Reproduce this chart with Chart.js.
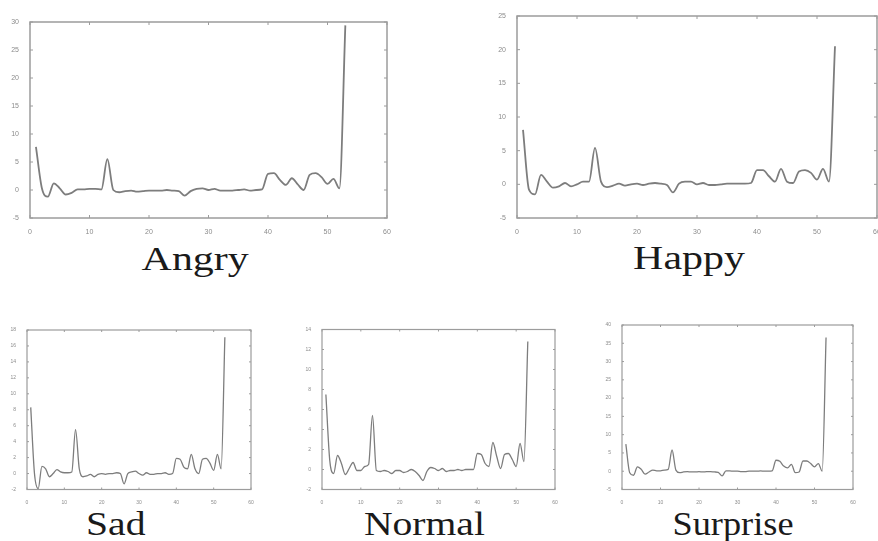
<!DOCTYPE html>
<html>
<head>
<meta charset="utf-8">
<script src="https://cdn.jsdelivr.net/npm/chart.js@4/dist/chart.umd.min.js"></script>
<style>
  html, body { margin: 0; padding: 0; background: #fff; }
  body { width: 878px; height: 541px; position: relative; overflow: hidden; }
  canvas { position: absolute; }
  .title {
    position: absolute;
    font-family: "Liberation Serif", "DejaVu Serif", serif;
    font-size: 33px;
    line-height: 33px;
    color: #1a1a1a;
    white-space: nowrap;
    transform-origin: center;
  }
</style>
</head>
<body>
<canvas id="angryChart"></canvas>
<canvas id="happyChart"></canvas>
<canvas id="sadChart"></canvas>
<canvas id="normalChart"></canvas>
<canvas id="surpriseChart"></canvas>

<div class="title" id="t-angry">Angry</div>
<div class="title" id="t-happy">Happy</div>
<div class="title" id="t-sad">Sad</div>
<div class="title" id="t-normal">Normal</div>
<div class="title" id="t-surprise">Surprise</div>

<script>
// data point index (x axis)
const frameIndex = [1, 2, 3, 4, 5, 6, 7, 8, 9, 10, 11, 12, 13, 14, 15, 16, 17, 18, 19, 20,
  21, 22, 23, 24, 25, 26, 27, 28, 29, 30, 31, 32, 33, 34, 35, 36, 37, 38, 39, 40,
  41, 42, 43, 44, 45, 46, 47, 48, 49, 50, 51, 52, 53];

const xTicks = [0, 10, 20, 30, 40, 50, 60];

const angryValues = [7.7, 0.3, -1.2, 1.2, 0.3, -0.8, -0.5, 0.1, 0.1, 0.2, 0.2, 0.1, 5.5, 0.0, -0.4, -0.2, -0.1, -0.3, -0.2, -0.1,
  -0.1, -0.1, 0.0, -0.1, -0.2, -1.0, -0.2, 0.2, 0.3, 0.0, 0.2, -0.1, -0.1, -0.1, 0.0, 0.1, -0.1, 0.0, 0.1, 2.9,
  3.0, 1.8, 0.9, 2.1, 1.0, 0.0, 2.7, 3.0, 2.3, 1.1, 2.0, 0.3, 29.4];
const happyValues = [8.1, -0.8, -1.5, 1.4, 0.4, -0.5, -0.3, 0.2, -0.3, 0.0, 0.4, 0.4, 5.4, 0.4, -0.4, -0.2, 0.1, -0.2, 0.0, 0.1,
  -0.1, 0.1, 0.2, 0.1, -0.1, -1.2, 0.1, 0.4, 0.4, 0.0, 0.2, -0.1, -0.1, 0.0, 0.1, 0.1, 0.1, 0.1, 0.2, 2.1,
  2.1, 1.2, 0.4, 2.3, 0.4, 0.2, 1.9, 2.1, 1.7, 0.7, 2.3, 0.4, 20.5];
const sadValues = [8.3, 0.0, -1.9, 0.9, 0.6, -0.4, 0.0, 0.5, 0.2, 0.1, 0.1, 0.2, 5.5, 0.6, -0.4, -0.3, -0.1, -0.4, -0.1, 0.0,
  -0.1, 0.0, 0.0, 0.1, 0.0, -1.3, 0.0, 0.2, 0.3, 0.0, -0.2, 0.1, -0.1, -0.1, 0.0, 0.0, 0.1, -0.1, 0.0, 1.9,
  1.8, 0.8, 0.6, 2.4, 0.6, 0.0, 1.8, 1.9, 1.3, 0.4, 2.4, 0.6, 17.1];
const normalValues = [7.5, 0.9, -0.4, 1.4, 0.6, -0.5, 0.1, 0.7, -0.1, -0.1, 0.3, 0.5, 5.4, -0.1, -0.2, -0.1, -0.2, -0.4, -0.1, -0.1,
  -0.3, -0.2, 0.0, -0.2, -0.6, -1.1, -0.2, 0.2, 0.1, -0.1, 0.1, -0.2, -0.1, -0.1, 0.0, -0.1, 0.0, 0.0, 0.0, 1.6,
  1.5, 0.6, 0.3, 2.7, 1.3, 0.1, 1.5, 1.6, 1.0, 0.3, 2.6, 0.8, 12.8];
const surpriseValues = [7.4, -0.4, -1.1, 1.2, 0.5, -0.8, -0.2, 0.3, 0.1, 0.1, 0.3, 0.5, 5.8, 0.3, -0.4, -0.2, -0.1, -0.2, -0.2, -0.1,
  -0.2, -0.1, -0.1, -0.2, -0.3, -1.3, 0.1, 0.1, 0.0, 0.0, -0.1, -0.1, 0.0, 0.0, 0.0, 0.1, 0.0, 0.0, 0.1, 3.0,
  2.7, 1.4, 0.9, 1.9, -0.4, -0.2, 2.8, 2.8, 2.1, 1.2, 2.1, 0.0, 36.6];

// y tick labels for each panel
const angryYTicks = [-5, 0, 5, 10, 15, 20, 25, 30];
const happyYTicks = [-5, 0, 5, 10, 15, 20, 25];
const sadYTicks = [-2, 0, 2, 4, 6, 8, 10, 12, 14, 16, 18];
const normalYTicks = [-2, 0, 2, 4, 6, 8, 10, 12, 14];
const surpriseYTicks = [-5, 0, 5, 10, 15, 20, 25, 30, 35, 40];

// MATLAB-like box with inward ticks on all sides
const frameBox = {
  id: 'frameBox',
  afterDatasetsDraw(chart, args, opts) {
    const { ctx, chartArea: a, scales } = chart;
    const len = opts.tickLen || 3;
    ctx.save();
    ctx.strokeStyle = '#9c9c9c';
    ctx.lineWidth = opts.lineWidth || 1.5;
    ctx.strokeRect(a.left, a.top, a.right - a.left, a.bottom - a.top);
    ctx.lineWidth = 1;
    ctx.beginPath();
    scales.x.ticks.forEach(t => {
      const px = scales.x.getPixelForValue(t.value);
      ctx.moveTo(px, a.bottom); ctx.lineTo(px, a.bottom - len);
      ctx.moveTo(px, a.top); ctx.lineTo(px, a.top + len);
    });
    scales.y.ticks.forEach(t => {
      const py = scales.y.getPixelForValue(t.value);
      ctx.moveTo(a.left, py); ctx.lineTo(a.left + len, py);
      ctx.moveTo(a.right, py); ctx.lineTo(a.right - len, py);
    });
    ctx.stroke();
    ctx.restore();
  }
};

function makePanel(id, values, yTicks, canvasBox, plotBox, fontSize, lineWidth) {
  const el = document.getElementById(id);
  el.width = canvasBox.w;
  el.height = canvasBox.h;
  el.style.left = canvasBox.x + 'px';
  el.style.top = canvasBox.y + 'px';

  const leftW = plotBox.l - canvasBox.x;
  const topPad = plotBox.t - canvasBox.y;
  const rightPad = canvasBox.x + canvasBox.w - plotBox.r;
  const bottomH = canvasBox.y + canvasBox.h - plotBox.b;
  const yStep = yTicks[1] - yTicks[0];

  new Chart(el.getContext('2d'), {
    type: 'line',
    data: {
      datasets: [{
        data: frameIndex.map((x, i) => ({ x: x, y: values[i] })),
        borderColor: '#7d7d7d',
        borderWidth: lineWidth,
        pointRadius: 0,
        cubicInterpolationMode: 'monotone',
        fill: false
      }]
    },
    options: {
      responsive: false,
      animation: false,
      layout: { padding: { left: 0, top: topPad, right: rightPad, bottom: 0 } },
      plugins: {
        legend: { display: false },
        tooltip: { enabled: false },
        frameBox: { tickLen: fontSize > 6 ? 3 : 2, lineWidth: fontSize > 6 ? 1.5 : 1.2 }
      },
      scales: {
        x: {
          type: 'linear',
          min: xTicks[0],
          max: xTicks[xTicks.length - 1],
          afterFit: s => { s.height = bottomH; },
          grid: { display: false },
          border: { display: false },
          ticks: {
            stepSize: xTicks[1] - xTicks[0],
            maxRotation: 0,
            padding: 2,
            color: '#8c8c8c',
            font: { family: 'Liberation Sans', size: fontSize }
          }
        },
        y: {
          type: 'linear',
          min: yTicks[0],
          max: yTicks[yTicks.length - 1],
          afterFit: s => { s.width = leftW; },
          grid: { display: false },
          border: { display: false },
          ticks: {
            stepSize: yStep,
            padding: 3,
            color: '#8c8c8c',
            font: { family: 'Liberation Sans', size: fontSize }
          }
        }
      }
    },
    plugins: [frameBox]
  });
}

makePanel('angryChart', angryValues, angryYTicks,
  { x: 0, y: 0, w: 400, h: 240 }, { l: 30, t: 22, r: 387, b: 218 }, 7, 1.8);
makePanel('happyChart', happyValues, happyYTicks,
  { x: 480, y: 0, w: 410, h: 240 }, { l: 517, t: 16, r: 877, b: 218 }, 7, 1.8);
makePanel('sadChart', sadValues, sadYTicks,
  { x: 0, y: 310, w: 265, h: 195 }, { l: 27, t: 330, r: 251, b: 489.5 }, 5, 1.3);
makePanel('normalChart', normalValues, normalYTicks,
  { x: 290, y: 310, w: 280, h: 195 }, { l: 322, t: 329.5, r: 555, b: 489.5 }, 5, 1.3);
makePanel('surpriseChart', surpriseValues, surpriseYTicks,
  { x: 590, y: 310, w: 280, h: 195 }, { l: 622, t: 325, r: 853, b: 489.5 }, 5, 1.3);

// panel captions, centred with a horizontal stretch like the original scan
function placeTitle(id, cx, top, stretch) {
  const el = document.getElementById(id);
  const w = el.offsetWidth;
  el.style.left = (cx - w / 2) + 'px';
  el.style.top = top + 'px';
  el.style.transform = 'scaleX(' + stretch + ')';
}
placeTitle('t-angry', 195, 243, 1.27);
placeTitle('t-happy', 689, 242, 1.27);
placeTitle('t-sad', 116, 508, 1.2);
placeTitle('t-normal', 424, 508, 1.2);
placeTitle('t-surprise', 733, 508, 1.1);
</script>
</body>
</html>
